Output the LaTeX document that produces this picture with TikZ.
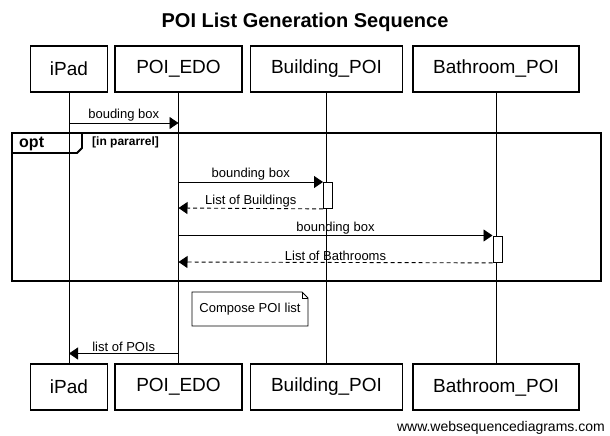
\documentclass[tikz,border=0pt]{standalone}
\usepackage{fontspec}
\setmainfont{Liberation Sans}
\usetikzlibrary{arrows.meta,calc}
\begin{document}
\begin{tikzpicture}[x=1pt,y=-1pt,
  actor/.style={draw,line width=1.2pt,minimum height=46pt,inner sep=0pt,font=\fontsize{19}{22}\selectfont},
  life/.style={line width=0.9pt},
  msg/.style={line width=0.9pt,-{Triangle[length=9pt,width=12pt]}},
  ret/.style={msg,dash pattern=on 4pt off 3pt},
  lbl/.style={font=\fontsize{13}{15}\selectfont,inner sep=1pt,above},
  act/.style={draw,line width=0.9pt,fill=white,minimum width=9pt,inner sep=0pt,anchor=north west},
  frame/.style={draw,line width=1.8pt}]
\useasboundingbox (0,0) rectangle (610,436);
% title
\node[font=\bfseries\fontsize{20}{24}\selectfont] (title) at (305,22) {POI List Generation Sequence};
% actors top
\node[actor,minimum width=77pt] (ipadT) at (69,69) {iPad};
\node[actor,minimum width=127pt] (edoT) at (178.5,69) {POI\_EDO};
\node[actor,minimum width=152pt] (bldT) at (326.5,69) {Building\_POI};
\node[actor,minimum width=166pt] (bathT) at (496,69) {Bathroom\_POI};
% actors bottom
\node[actor,minimum width=77pt] (ipadB) at (69,387) {iPad};
\node[actor,minimum width=127pt] (edoB) at (178.5,387) {POI\_EDO};
\node[actor,minimum width=152pt] (bldB) at (326.5,387) {Building\_POI};
\node[actor,minimum width=166pt] (bathB) at (496,387) {Bathroom\_POI};
% lifelines
\draw[life] (ipadT) -- (ipadB);
\draw[life] (edoT) -- (edoB);
\draw[life] (bldT) -- (bldB);
\draw[life] (bathT) -- (bathB);
% y levels
\coordinate (y1) at (0,123);
\coordinate (y2) at (0,182);
\coordinate (y3) at (0,208);
\coordinate (y4) at (0,235.5);
\coordinate (y5) at (0,262);
\coordinate (y6) at (0,353.5);
% message 1
\coordinate (m1a) at (ipadT |- y1);
\coordinate (m1b) at (edoT |- y1);
\draw[msg] (m1a) -- node[lbl] {bouding box} (m1b);
% opt frame
\coordinate (fTL) at (12,133);
\coordinate (fBR) at (601,281);
\draw[frame] (fTL) rectangle (fBR);
\coordinate (tab1) at (82,133);
\coordinate (tab2) at (82,148);
\coordinate (tab3) at (77,153);
\coordinate (tab4) at (12,153);
\draw[frame,line join=miter] (tab1) -- (tab2) -- (tab3) -- (tab4);
\node[font=\bfseries\fontsize{16}{18}\selectfont,anchor=west,inner sep=0pt] (opt) at (19,143.5) {opt};
\node[font=\bfseries\fontsize{12}{14}\selectfont,anchor=west,inner sep=0pt] (cond) at (92,142) {[in pararrel]};
% activation boxes
\node[act,minimum height=26pt] (act1) at ($(bldT |- y2)+(-3.5,0)$) {};
\node[act,minimum height=26.5pt] (act2) at ($(bathT |- y4)+(-3.5,0)$) {};
% messages inside frame
\coordinate (m2a) at (edoT |- y2);
\draw[msg] (m2a) -- node[lbl] {bounding box} (act1.north west);
\coordinate (m3b) at (edoT |- y3);
\draw[ret] (act1.south west) -- node[lbl] {List of Buildings} (m3b);
\coordinate (m4a) at (edoT |- y4);
\draw[msg] (m4a) -- node[lbl] {bounding box} (act2.north west);
\coordinate (m5b) at (edoT |- y5);
\draw[ret] (act2.south west) -- node[lbl] {List of Bathrooms} (m5b);
% note
\coordinate (nTL) at (192,292);
\coordinate (nTR) at (308,292);
\coordinate (nBR) at (308,326);
\coordinate (nBL) at (192,326);
\coordinate (nF1) at (302,292);
\coordinate (nF2) at (308,298);
\coordinate (nF3) at (302,298);
\draw[line width=0.9pt,fill=white] (nTL) -- (nF1) -- (nF2) -- (nBR) -- (nBL) -- cycle;
\draw[line width=0.7pt] (nF1) -- (nF3) -- (nF2);
\node[font=\fontsize{13}{15}\selectfont,inner sep=0pt] (note) at (250,309) {Compose POI list};
% return to iPad
\coordinate (m6a) at (edoT |- y6);
\coordinate (m6b) at (ipadT |- y6);
\draw[msg] (m6a) -- node[lbl] {list of POIs} (m6b);
% watermark
\node[font=\fontsize{14}{16}\selectfont,anchor=east,inner sep=0pt] (wm) at (605,428) {www.websequencediagrams.com};
\end{tikzpicture}
\end{document}
